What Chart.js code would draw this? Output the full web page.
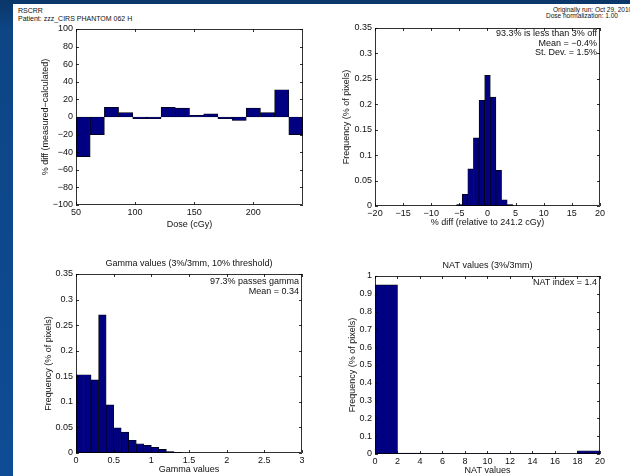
<!DOCTYPE html>
<html>
<head>
<meta charset="utf-8">
<script src="https://cdn.jsdelivr.net/npm/chart.js@4.4.0/dist/chart.umd.min.js"></script>
<style>
html,body{margin:0;padding:0}
body{width:630px;height:476px;overflow:hidden;position:relative;background:linear-gradient(180deg,#0b3668 0,#0d4585 30px,#0e4c95 100%)}
#sheet{position:absolute;left:13px;top:4px;right:0;bottom:0;background:#fff}
.hdr{position:absolute;font:7px "Liberation Sans",Arial,sans-serif;color:#111;white-space:nowrap;line-height:7.5px}
.hdr.r{font-size:6.5px;line-height:6.5px}
canvas{position:absolute}
</style>
</head>
<body>
<div id="sheet"></div>
<div class="hdr" style="left:18px;top:7px">RSCRR<br>Patient: zzz_CIRS PHANTOM 062 H</div>
<div class="hdr r" style="left:553px;top:6.5px">Originally run: Oct 29, 2010</div>
<div class="hdr r" style="left:546px;top:12.5px">Dose normalization: 1.00</div>
<canvas id="c1"></canvas>
<canvas id="c2"></canvas>
<canvas id="c3"></canvas>
<canvas id="c4"></canvas>
<script>
// dose difference per dose bin
const doseBins=[56,68,80,92,104,116,128,140,152,164,176,188,200,212,224,236]
const doseDiff=[-45,-20,11,5,-2,-2,11,10,2,3.5,-2,-4,10,5,31,-20]
const doseTicks=[50,100,150,200]
const pctTicks=[-100,-80,-60,-40,-20,0,20,40,60,80,100]

// histogram of % diff
const diffBins=[-5,-4,-3,-2,-1,0,1,2,3,4]
const diffFreq=[0.003,0.023,0.073,0.134,0.208,0.257,0.214,0.07,0.012,0.003]
const diffTicks=[-20,-15,-10,-5,0,5,10,15,20]
const freqTicks=[0,0.05,0.1,0.15,0.2,0.25,0.3,0.35]

// gamma histogram
const gammaBins=[0.05,0.15,0.25,0.35,0.45,0.55,0.65,0.75,0.85,0.95,1.05,1.15,1.25,1.35]
const gammaFreq=[0.153,0.153,0.143,0.27,0.094,0.049,0.041,0.025,0.018,0.015,0.011,0.007,0.003,0.0015]
const gammaTicks=[0,0.5,1,1.5,2,2.5,3]

// NAT histogram
const natBins=[1,3,5,7,9,11,13,15,17,19]
const natFreq=[0.95,0.005,0.002,0.002,0.002,0.002,0.002,0.002,0,0.018]
const natTicks=[0,2,4,6,8,10,12,14,16,18,20]
const natFreqTicks=[0,0.1,0.2,0.3,0.4,0.5,0.6,0.7,0.8,0.9,1]

Chart.defaults.font.family='"Liberation Sans", Arial, sans-serif'
Chart.defaults.font.size=9
Chart.defaults.color='#111'

function fmt(v){
return String(+v.toFixed(2)).replace('-','\u2212')
}

// matlab style box, inward ticks, title and text notes
const matBox={
id:'matBox',
afterDatasetsDraw(chart,args,o){
let ctx=chart.ctx, a=chart.chartArea, x=chart.scales.x, y=chart.scales.y
ctx.save()
ctx.strokeStyle='#000'
ctx.lineWidth=0.8
ctx.beginPath()
x.ticks.forEach(t=>{
let p=Math.round(x.getPixelForValue(t.value))+0.5
ctx.moveTo(p,a.bottom);ctx.lineTo(p,a.bottom-3)
ctx.moveTo(p,a.top);ctx.lineTo(p,a.top+3)
})
y.ticks.forEach(t=>{
let p=Math.round(y.getPixelForValue(t.value))+0.5
ctx.moveTo(a.left,p);ctx.lineTo(a.left+3,p)
ctx.moveTo(a.right,p);ctx.lineTo(a.right-3,p)
})
ctx.stroke()
ctx.strokeRect(a.left+0.5,a.top+0.5,a.right-a.left-1,a.bottom-a.top-1)
ctx.fillStyle='#111'
ctx.font='9px "Liberation Sans", Arial, sans-serif'
ctx.textBaseline='middle'
if(o.title){
ctx.textAlign='center'
ctx.fillText(o.title,(a.left+a.right)/2,a.top-10)
}
ctx.textAlign='right'
;(o.notes||[]).forEach((s,i)=>ctx.fillText(s,a.right-3,a.top+o.noteTop+i*9.5))
ctx.restore()
}
}

function makeChart(id,g,bins,vals,xr,xt,yr,yt,xlab,ylab,title,notes,noteTop){
let cv=document.getElementById(id)
let left=g.ylabX-5, top=g.areaT-20, right=g.areaR+6, bottom=Math.round(g.xlabY+5.4)
cv.style.left=left+'px'
cv.style.top=top+'px'
cv.width=right-left
cv.height=bottom-top
let yW=g.areaL-left, xH=bottom-g.areaB
return new Chart(cv,{
type:'bar',
data:{
datasets:[{
data:bins.map((b,i)=>({x:b,y:vals[i]})),
backgroundColor:'#000080',
borderColor:'#000',
borderWidth:0.7,
borderSkipped:false,
barPercentage:1,
categoryPercentage:1
}]
},
options:{
responsive:false,
animation:false,
layout:{padding:{top:20,right:6,left:0,bottom:0}},
plugins:{legend:{display:false},tooltip:{enabled:false},matBox:{title:title,notes:notes,noteTop:noteTop}},
scales:{
x:{
type:'linear',min:xr[0],max:xr[1],offset:false,
grid:{display:false,drawTicks:false},border:{display:false},
ticks:{padding:2,autoSkip:false,maxRotation:0,callback:fmt},
afterBuildTicks:s=>{s.ticks=xt.map(v=>({value:v}))},
afterFit:s=>{s.height=xH},
title:{display:true,text:xlab,padding:0}
},
y:{
type:'linear',min:yr[0],max:yr[1],
grid:{display:false,drawTicks:false},border:{display:false},
ticks:{padding:3,autoSkip:false,callback:fmt},
afterBuildTicks:s=>{s.ticks=yt.map(v=>({value:v}))},
afterFit:s=>{s.width=yW},
title:{display:true,text:ylab,padding:0}
}
}
},
plugins:[matBox]
})
}

makeChart('c1',{areaL:76,areaT:29,areaR:303,areaB:205,ylabX:45,xlabY:225},
doseBins,doseDiff,[50,242],doseTicks,[-100,100],pctTicks,
'Dose (cGy)','% diff (measured\u2212calculated)',null,[],7)

makeChart('c2',{areaL:375,areaT:28,areaR:601,areaB:206,ylabX:346,xlabY:223},
diffBins,diffFreq,[-20,20],diffTicks,[0,0.35],freqTicks,
'% diff (relative to 241.2 cGy)','Frequency (% of pixels)',null,
['93.3% is less than 3% off','Mean = \u22120.4%','St. Dev. = 1.5%'],6)

makeChart('c3',{areaL:76,areaT:274,areaR:302,areaB:453,ylabX:48,xlabY:470},
gammaBins,gammaFreq,[0,3],gammaTicks,[0,0.35],freqTicks,
'Gamma values','Frequency (% of pixels)','Gamma values (3%/3mm, 10% threshold)',
['97.3% passes gamma','Mean = 0.34'],8)

makeChart('c4',{areaL:375,areaT:276,areaR:601,areaB:454,ylabX:352,xlabY:471},
natBins,natFreq,[0,20],natTicks,[0,1],natFreqTicks,
'NAT values','Frequency (% of pixels)','NAT values (3%/3mm)',
['NAT index = 1.4'],7)
</script>
</body>
</html>
